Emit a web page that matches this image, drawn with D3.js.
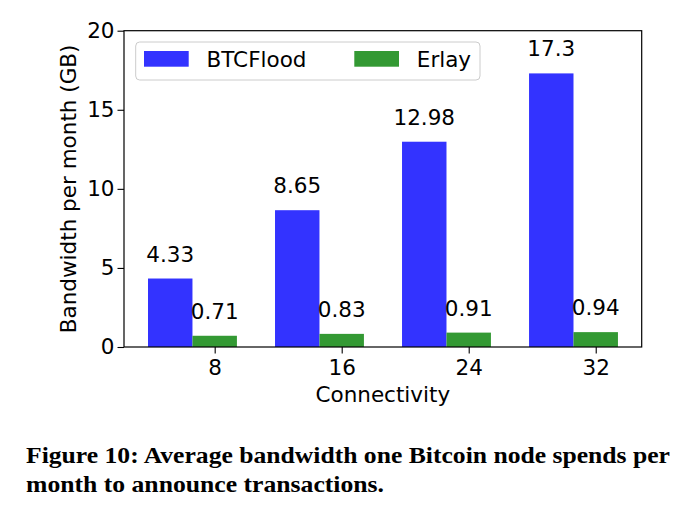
<!DOCTYPE html>
<html>
<head>
<meta charset="utf-8">
<script src="https://cdn.jsdelivr.net/npm/d3@7"></script>
<style>
  body { margin: 0; background: #fff; }
  svg text { font-family: "DejaVu Sans", sans-serif; }
</style>
</head>
<body>
<div id="chart"></div>
<script>
// data
const connectivity = ["8", "16", "24", "32"];
const btcflood = [4.33, 8.65, 12.98, 17.3];
const erlay = [0.71, 0.83, 0.91, 0.94];
const btcfloodLabels = ["4.33", "8.65", "12.98", "17.3"];
const erlayLabels = ["0.71", "0.83", "0.91", "0.94"];
const yTicks = [0, 5, 10, 15, 20];
const seriesNames = ["BTCFlood", "Erlay"];
const seriesColors = ["#3333ff", "#339933"];

const W = 680, H = 518;
const fs = 21.5;
const plotLeft = 124, plotRight = 641.7, plotTop = 30.7, plotBottom = 347;
const barW = 0.35;

const svg = d3.select("#chart").append("svg")
    .attr("width", W).attr("height", H);

// scales (matplotlib style limits)
const x = d3.scaleLinear().domain([-0.714, 3.362]).range([plotLeft, plotRight]);
const y = d3.scaleLinear().domain([0, 20]).range([plotBottom, plotTop]);

// bars
const series = [
    {vals: btcflood, labels: btcfloodLabels, off: -barW, color: seriesColors[0]},
    {vals: erlay, labels: erlayLabels, off: 0, color: seriesColors[1]}
];

series.forEach(s => {
    svg.append("g").selectAll("rect")
        .data(s.vals)
        .enter()
        .append("rect")
        .attr("x", (d, i) => x(i + s.off - barW / 2))
        .attr("y", d => y(d))
        .attr("width", (d, i) => x(i + s.off + barW / 2) - x(i + s.off - barW / 2))
        .attr("height", d => y(0) - y(d))
        .attr("fill", s.color);

    // 數值標籤
    svg.append("g").selectAll("text")
        .data(s.vals)
        .enter()
        .append("text")
        .attr("x", (d, i) => x(i + s.off))
        .attr("y", d => y(d) - 17)
        .attr("text-anchor", "middle")
        .attr("font-size", fs)
        .text((d, i) => s.labels[i]);
});

// x axis
const xAxis = d3.axisBottom(x)
    .tickValues(d3.range(connectivity.length))
    .tickFormat(i => connectivity[i])
    .tickSize(6.5)
    .tickPadding(6);
const gx = svg.append("g")
    .attr("transform", `translate(0,${plotBottom})`)
    .call(xAxis);
gx.select(".domain").remove();
gx.selectAll("text").attr("font-size", fs).attr("font-family", "DejaVu Sans").attr("fill", "#000");
gx.selectAll("line").attr("stroke", "#000").attr("stroke-width", 1.1);

// y axis
const yAxis = d3.axisLeft(y)
    .tickValues(yTicks)
    .tickSize(6.5)
    .tickPadding(3);
const gy = svg.append("g")
    .attr("transform", `translate(${plotLeft},0)`)
    .call(yAxis);
gy.select(".domain").remove();
gy.selectAll("text").attr("font-size", fs).attr("font-family", "DejaVu Sans").attr("fill", "#000");
gy.selectAll("line").attr("stroke", "#000").attr("stroke-width", 1.1);

// frame
svg.append("rect")
    .attr("x", plotLeft).attr("y", plotTop)
    .attr("width", plotRight - plotLeft).attr("height", plotBottom - plotTop)
    .attr("fill", "none")
    .attr("stroke", "#000")
    .attr("stroke-width", 1.2);

// axis titles
svg.append("text")
    .attr("x", (plotLeft + plotRight) / 2)
    .attr("y", 402)
    .attr("text-anchor", "middle")
    .attr("font-size", fs)
    .text("Connectivity");

svg.append("text")
    .attr("transform", `translate(76,${(plotTop + plotBottom) / 2}) rotate(-90)`)
    .attr("text-anchor", "middle")
    .attr("font-size", fs)
    .text("Bandwidth per month (GB)");

// legend
const legend = svg.append("g");
legend.append("rect")
    .attr("x", 135.7).attr("y", 42)
    .attr("width", 480 - 135.7).attr("height", 38)
    .attr("rx", 4)
    .attr("fill", "#fff").attr("fill-opacity", 0.8)
    .attr("stroke", "#cccccc").attr("stroke-width", 1);
const legendX = [144, 354.3];
seriesNames.forEach((name, i) => {
    legend.append("rect")
        .attr("x", legendX[i]).attr("y", 51)
        .attr("width", 44.7).attr("height", 15.7)
        .attr("fill", seriesColors[i]);
    legend.append("text")
        .attr("x", legendX[i] + 62.5)
        .attr("y", 67)
        .attr("font-size", fs)
        .text(name);
});

// caption
const caption = svg.append("g")
    .attr("font-weight", "bold")
    .attr("font-size", 23);
caption.append("text")
    .attr("x", 26).attr("y", 463)
    .attr("textLength", 644).attr("lengthAdjust", "spacingAndGlyphs")
    .style("font-family", "'Liberation Serif', serif")
    .text("Figure 10: Average bandwidth one Bitcoin node spends per");
caption.append("text")
    .attr("x", 26).attr("y", 492)
    .attr("textLength", 358).attr("lengthAdjust", "spacingAndGlyphs")
    .style("font-family", "'Liberation Serif', serif")
    .text("month to announce transactions.");
</script>
</body>
</html>
